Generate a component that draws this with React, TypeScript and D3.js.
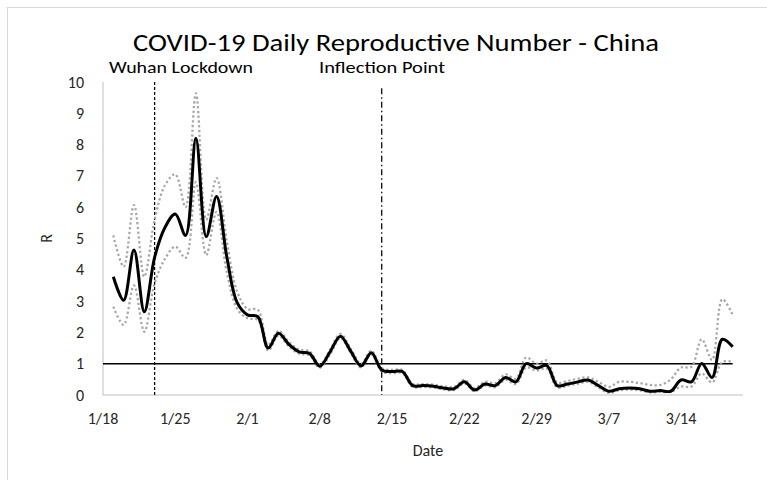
import { useEffect, useRef } from 'react'
import * as d3 from 'd3'

// Daily R estimates, 1/19 .. 3/19 (2020)
const rMid = [
  3.78, 3.03, 4.63, 2.66, 4.4, 5.35, 5.78, 5.1, 8.2, 5.06,
  6.34, 4.4, 2.95, 2.56, 2.5, 1.5, 1.97, 1.62, 1.38, 1.33,
  0.92, 1.38, 1.88, 1.4, 0.93, 1.35, 0.8, 0.75, 0.75, 0.3,
  0.3, 0.28, 0.22, 0.2, 0.42, 0.16, 0.35, 0.3, 0.56, 0.42,
  1.0, 0.86, 0.94, 0.3, 0.35, 0.42, 0.48, 0.3, 0.12, 0.2,
  0.22, 0.2, 0.12, 0.14, 0.12, 0.48, 0.42, 1.01, 0.56, 1.78,
  1.54,
]
const rUpper = [
  5.1, 4.1, 6.07, 3.78, 5.6, 6.7, 7.05, 6.0, 9.64, 5.6,
  6.93, 4.9, 3.3, 2.75, 2.72, 1.6, 2.05, 1.7, 1.45, 1.4,
  0.98, 1.45, 1.95, 1.48, 1.0, 1.42, 0.86, 0.8, 0.8, 0.35,
  0.35, 0.33, 0.28, 0.26, 0.48, 0.22, 0.42, 0.38, 0.66, 0.52,
  1.2, 1.0, 1.1, 0.4, 0.45, 0.52, 0.56, 0.42, 0.26, 0.42,
  0.42, 0.38, 0.32, 0.32, 0.5, 0.88, 0.9, 1.78, 1.12, 3.06,
  2.56,
]
const rLower = [
  2.82, 2.24, 3.5, 2.02, 3.57, 4.35, 4.74, 4.38, 6.8, 4.47,
  5.85, 3.9, 2.75, 2.45, 2.4, 1.42, 1.9, 1.55, 1.32, 1.27,
  0.87, 1.3, 1.82, 1.34, 0.88, 1.3, 0.75, 0.7, 0.7, 0.26,
  0.26, 0.24, 0.18, 0.16, 0.37, 0.12, 0.3, 0.25, 0.48, 0.35,
  0.88, 0.78, 0.84, 0.24, 0.3, 0.36, 0.42, 0.24, 0.07, 0.15,
  0.17, 0.15, 0.08, 0.1, 0.1, 0.27, 0.27, 0.69, 0.4, 1.06,
  1.06,
]

const xTickLabels = ['1/18', '1/25', '2/1', '2/8', '2/15', '2/22', '2/29', '3/7', '3/14']
const yTicks = [0, 1, 2, 3, 4, 5, 6, 7, 8, 9, 10]
const events = [
  { date: '1/23', label: 'Wuhan Lockdown', top: 10, dash: '3,2' },
  { date: '2/14', label: 'Inflection Point', top: 9.8, dash: '6,3,1.5,3' },
]
const threshold = 1

const parse = (s: string) => {
  const [m, d] = s.split('/').map(Number)
  return new Date(2020, m - 1, d)
}

const FONT = "Carlito, 'Liberation Sans Narrow', 'Open Sans', sans-serif"
const TEXT = '#262626'

export default function App() {
  const ref = useRef<SVGSVGElement>(null)

  useEffect(() => {
    const svg = d3.select(ref.current)
    svg.selectAll('*').remove()

    const W = 767
    const H = 480
    const x = d3.scaleTime()
      .domain([parse('1/18'), parse('3/20')])
      .range([103, 743])
    const y = d3.scaleLinear().domain([0, 10]).range([395, 82])

    const days = d3.timeDay.range(parse('1/19'), parse('3/20'))

    svg.append('rect').attr('width', W).attr('height', H).attr('fill', '#fff')
    // outer chart frame
    svg.append('rect')
      .attr('x', 7.5).attr('y', 7.5)
      .attr('width', 820).attr('height', 520)
      .attr('fill', 'none').attr('stroke', '#d9d9d9')

    // axes lines
    svg.append('line')
      .attr('x1', x.range()[0]).attr('x2', x.range()[0])
      .attr('y1', y(10)).attr('y2', y(0))
      .attr('stroke', '#bfbfbf')
    svg.append('line')
      .attr('x1', x.range()[0]).attr('x2', x.range()[1])
      .attr('y1', y(0)).attr('y2', y(0))
      .attr('stroke', '#bfbfbf')

    // y tick labels
    svg.append('g').selectAll('text')
      .data(yTicks)
      .enter().append('text')
      .attr('x', 84)
      .attr('y', d => y(d) + 5.5)
      .attr('text-anchor', 'end')
      .attr('font-family', FONT)
      .attr('font-size', 16)
      .attr('fill', TEXT)
      .text(d => d)

    // x tick labels
    svg.append('g').selectAll('text')
      .data(xTickLabels)
      .enter().append('text')
      .attr('x', d => x(parse(d)))
      .attr('y', 424)
      .attr('text-anchor', 'middle')
      .attr('font-family', FONT)
      .attr('font-size', 16)
      .attr('fill', TEXT)
      .text(d => d)

    // axis titles
    svg.append('text')
      .attr('x', 428).attr('y', 456)
      .attr('text-anchor', 'middle')
      .attr('font-family', FONT).attr('font-size', 16)
      .attr('fill', TEXT)
      .text('Date')
    svg.append('text')
      .attr('transform', `translate(52,${y(5)}) rotate(-90)`)
      .attr('text-anchor', 'middle')
      .attr('font-family', FONT).attr('font-size', 16)
      .attr('fill', TEXT)
      .text('R')

    // title
    svg.append('text')
      .attr('x', 133).attr('y', 51)
      .attr('font-family', FONT).attr('font-size', 25)
      .attr('textLength', 526).attr('lengthAdjust', 'spacingAndGlyphs')
      .attr('fill', '#000')
      .text('COVID-19 Daily Reproductive Number - China')

    // threshold line R = 1
    svg.append('line')
      .attr('x1', x(parse('1/18'))).attr('x2', x(parse('3/19')))
      .attr('y1', y(threshold)).attr('y2', y(threshold))
      .attr('stroke', '#000').attr('stroke-width', 1.5)

    // event lines and labels
    events.forEach((e, i) => {
      const ex = x(parse(e.date))
      svg.append('line')
        .attr('x1', ex).attr('x2', ex)
        .attr('y1', y(e.top)).attr('y2', y(0))
        .attr('stroke', '#000').attr('stroke-width', 1.25)
        .attr('stroke-dasharray', e.dash)
      svg.append('text')
        .attr('x', i === 0 ? 109 : 319)
        .attr('y', 73)
        .attr('font-family', FONT).attr('font-size', 16)
        .attr('textLength', i === 0 ? 144 : 126)
        .attr('lengthAdjust', 'spacingAndGlyphs')
        .attr('fill', '#000')
        .text(e.label)
    })

    const line = (vals: number[]) => d3.line<number>()
      .x((_, i) => x(days[i]))
      .y(d => y(d))
      .curve(d3.curveCatmullRom.alpha(0.5))(vals)

    ;[rUpper, rLower].forEach(vals => {
      svg.append('path')
        .attr('d', line(vals))
        .attr('fill', 'none')
        .attr('stroke', '#a6a6a6')
        .attr('stroke-width', 2.25)
        .attr('stroke-dasharray', '2.25,2.5')
    })

    svg.append('path')
      .attr('d', line(rMid))
      .attr('fill', 'none')
      .attr('stroke', '#000')
      .attr('stroke-width', 3)
      .attr('stroke-linejoin', 'round')
  }, [])

  return (
    <svg
      ref={ref}
      width={767}
      height={480}
      style={{ position: 'absolute', left: 0, top: 0, display: 'block' }}
    />
  )
}
